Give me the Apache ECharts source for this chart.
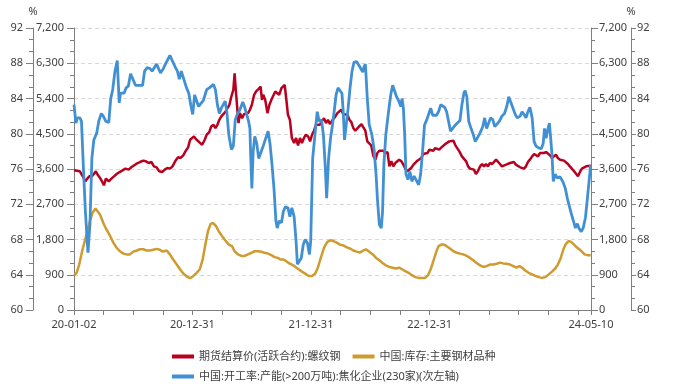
<!DOCTYPE html>
<html>
<head>
<meta charset="utf-8">
<script src="https://cdn.jsdelivr.net/npm/echarts@6/dist/echarts.min.js"></script>
<style>
html,body{margin:0;padding:0;background:#ffffff;}
#chart{width:693px;height:388px;}
</style>
</head>
<body>
<div id="chart"></div>
<script>
// ---- data (x = days since startDate) ----
const startDate = '2020-01-02';
const endDate = '2024-05-10';
const xTickDates = ['2020-01-02','2020-04-02','2020-07-02','2020-10-01','2020-12-31','2021-04-01','2021-07-01','2021-09-30','2021-12-31','2022-04-01','2022-07-01','2022-09-30','2022-12-31','2023-04-01','2023-07-01','2023-09-30','2023-12-31','2024-03-31','2024-05-10'];
const xLabelDates = ['2020-01-02','2020-12-31','2021-12-31','2022-12-31','2024-05-10'];
const seriesNames = ['期货结算价(活跃合约):螺纹钢','中国:库存:主要钢材品种','中国:开工率:产能(>200万吨):焦化企业(230家)(次左轴)'];
const leftTicks = [0,900,1800,2700,3600,4500,5400,6300,7200];
const pctTicks = [60,64,68,72,76,80,84,88,92];

// 期货结算价(活跃合约):螺纹钢 [day, 元/吨]
const rebarPrice = [[0,3566],[18,3541],[27,3413],[35,3286],[41,3354],[47,3413],[55,3413],[61,3473],[67,3541],[74,3439],[80,3371],[86,3286],[92,3184],[98,3354],[107,3286],[115,3354],[123,3413],[131,3473],[139,3516],[148,3558],[158,3609],[168,3584],[176,3643],[182,3592],[191,3728],[203,3779],[213,3813],[221,3796],[230,3753],[238,3779],[246,3668],[254,3643],[262,3541],[271,3524],[279,3584],[287,3626],[295,3609],[303,3668],[311,3796],[320,3898],[328,3881],[336,3948],[344,4067],[351,4152],[357,4347],[363,4322],[369,4432],[377,4347],[385,4288],[394,4220],[402,4347],[408,4475],[416,4543],[422,4687],[429,4729],[435,4645],[441,4729],[447,4857],[453,4942],[459,4984],[465,5052],[472,5154],[478,5239],[484,5451],[490,5621],[494,6045],[498,5579],[502,5154],[506,4772],[510,5027],[517,4899],[523,5001],[529,4984],[535,5027],[541,5112],[547,5239],[554,5494],[560,5579],[568,5646],[574,5706],[578,5366],[582,5494],[588,5366],[595,5027],[601,5239],[607,5366],[613,5366],[619,5579],[625,5537],[631,5494],[638,5663],[644,5706],[648,5748],[652,5451],[658,4984],[664,4857],[670,4390],[677,4262],[683,4390],[689,4203],[695,4390],[701,4262],[707,4390],[713,4475],[720,4432],[726,4305],[732,4475],[738,4577],[744,4729],[750,4772],[756,4729],[763,4831],[769,4899],[775,4772],[781,4857],[787,4750],[796,4857],[804,4942],[810,5027],[816,5052],[822,5112],[828,5001],[834,5052],[841,4984],[847,4857],[853,4797],[859,4645],[865,4577],[871,4627],[877,4687],[884,4746],[890,4729],[896,4577],[902,4305],[908,4322],[914,4203],[921,3923],[927,3838],[933,4008],[939,4067],[945,4093],[951,4067],[957,4008],[964,4033],[970,3668],[976,3796],[982,3668],[988,3753],[994,3779],[1000,3838],[1007,3796],[1013,3711],[1019,3609],[1025,3541],[1031,3498],[1037,3626],[1044,3711],[1050,3728],[1056,3813],[1062,3864],[1068,3881],[1074,3983],[1080,3948],[1087,4008],[1093,4093],[1099,4050],[1105,4067],[1111,4135],[1117,4177],[1123,4093],[1130,4152],[1136,4135],[1142,4237],[1148,4262],[1154,4305],[1160,4262],[1167,4322],[1173,4203],[1179,4152],[1185,4050],[1193,3923],[1199,3898],[1206,3796],[1212,3668],[1218,3609],[1224,3643],[1230,3584],[1236,3473],[1242,3541],[1249,3668],[1255,3728],[1261,3668],[1267,3728],[1273,3668],[1279,3753],[1286,3728],[1292,3779],[1298,3838],[1304,3796],[1310,3728],[1316,3668],[1322,3668],[1329,3711],[1335,3753],[1341,3753],[1347,3796],[1353,3779],[1359,3711],[1365,3668],[1372,3643],[1378,3626],[1384,3609],[1390,3668],[1396,3779],[1402,3838],[1409,3923],[1415,3983],[1421,3948],[1427,3923],[1433,4008],[1439,3983],[1445,4008],[1452,4033],[1458,4008],[1464,3948],[1470,3881],[1476,3898],[1482,3966],[1488,3881],[1495,3838],[1501,3796],[1507,3813],[1513,3779],[1519,3728],[1525,3668],[1531,3609],[1538,3541],[1544,3498],[1550,3413],[1556,3524],[1562,3609],[1568,3643],[1575,3668],[1581,3643],[1589,3680]];

// 中国:库存:主要钢材品种 [day, 万吨]
const steelStock = [[0,880],[8,950],[16,1160],[25,1500],[33,1760],[41,2010],[49,2270],[57,2480],[66,2590],[72,2560],[80,2440],[90,2220],[100,2050],[111,1890],[121,1720],[131,1590],[141,1500],[152,1440],[162,1420],[172,1420],[182,1490],[193,1520],[203,1550],[213,1550],[223,1520],[234,1520],[244,1540],[254,1560],[264,1540],[273,1490],[279,1510],[285,1520],[295,1420],[305,1290],[316,1160],[326,1040],[336,930],[346,860],[357,810],[367,870],[377,950],[387,1040],[396,1300],[404,1670],[412,2010],[420,2200],[428,2220],[437,2140],[445,2010],[455,1890],[465,1780],[476,1670],[486,1630],[494,1500],[504,1420],[515,1380],[525,1380],[535,1420],[545,1460],[556,1500],[566,1500],[576,1490],[586,1460],[597,1440],[607,1400],[617,1350],[627,1330],[635,1290],[644,1290],[652,1250],[660,1200],[670,1160],[681,1100],[691,1040],[701,980],[711,930],[722,870],[732,870],[742,930],[750,1080],[759,1330],[769,1590],[779,1740],[789,1780],[798,1760],[808,1720],[818,1670],[828,1650],[839,1600],[849,1570],[859,1520],[869,1490],[880,1470],[890,1520],[898,1550],[908,1490],[919,1420],[929,1330],[939,1270],[949,1200],[959,1140],[970,1100],[980,1080],[990,1060],[1000,1080],[1009,1040],[1019,990],[1029,950],[1039,890],[1050,840],[1060,820],[1070,820],[1080,820],[1089,890],[1097,1040],[1105,1250],[1113,1460],[1121,1630],[1130,1670],[1138,1670],[1146,1630],[1156,1570],[1167,1500],[1177,1460],[1187,1440],[1197,1420],[1208,1380],[1218,1330],[1228,1270],[1238,1200],[1249,1140],[1259,1100],[1269,1120],[1279,1160],[1290,1160],[1300,1180],[1310,1210],[1320,1190],[1331,1180],[1341,1160],[1351,1120],[1361,1080],[1370,1120],[1378,1080],[1388,1010],[1398,950],[1409,910],[1419,870],[1429,840],[1439,820],[1450,840],[1460,910],[1470,980],[1480,1060],[1488,1160],[1497,1330],[1505,1550],[1513,1690],[1521,1760],[1529,1740],[1538,1670],[1546,1600],[1554,1550],[1562,1490],[1570,1420],[1579,1400],[1589,1400]];

// 中国:开工率:产能(>200万吨):焦化企业(230家) [day, %]
const cokingRate = [[0,83.3],[6,81.2],[10,81.8],[18,81.8],[23,81.4],[29,76.1],[35,71.2],[43,66.5],[49,69.7],[55,77.2],[61,79.3],[70,80.1],[76,81.4],[84,82.3],[90,82.0],[98,81.4],[107,81.3],[113,84.0],[119,85.0],[126,87.1],[133,88.3],[139,83.5],[143,84.6],[154,84.6],[160,85.2],[167,85.4],[174,86.8],[180,86.3],[189,85.5],[203,85.5],[211,85.5],[217,87.1],[225,87.5],[234,87.4],[240,87.1],[246,87.2],[254,87.9],[260,87.8],[266,86.9],[275,87.4],[281,87.9],[287,88.1],[295,88.9],[301,88.4],[311,87.6],[318,87.1],[324,86.2],[330,87.1],[336,87.1],[346,85.2],[353,84.6],[359,83.3],[365,82.2],[371,84.4],[377,84.2],[383,83.1],[388,82.9],[398,83.8],[408,85.0],[416,85.2],[422,85.0],[429,85.6],[435,85.0],[441,83.3],[447,82.3],[453,82.9],[459,83.3],[465,83.7],[470,82.5],[476,79.9],[484,78.2],[490,78.6],[496,81.6],[502,82.2],[510,82.7],[519,83.6],[525,83.0],[531,82.2],[537,81.4],[541,80.6],[543,78.0],[547,73.8],[551,78.0],[556,79.7],[562,78.9],[568,77.2],[574,77.4],[580,78.4],[588,79.3],[597,80.3],[603,78.8],[609,76.5],[615,73.8],[621,70.1],[625,69.3],[631,70.1],[638,69.9],[644,71.2],[650,71.7],[658,71.6],[664,70.6],[670,71.6],[677,70.6],[683,67.8],[687,65.2],[693,65.2],[699,65.9],[705,67.4],[711,68.0],[718,67.6],[724,66.3],[728,67.8],[734,77.2],[740,79.5],[748,82.5],[754,81.4],[761,81.6],[767,79.9],[773,76.1],[777,72.7],[783,77.2],[789,79.5],[795,81.0],[800,82.5],[806,84.4],[812,85.2],[818,85.0],[824,84.6],[828,82.5],[832,79.3],[836,79.5],[843,82.9],[849,85.2],[855,87.1],[861,88.1],[869,88.2],[875,88.1],[882,87.4],[888,87.0],[892,87.6],[896,87.9],[898,86.7],[902,84.0],[908,81.0],[916,79.9],[923,78.2],[929,75.4],[933,72.7],[939,69.7],[945,69.3],[949,71.2],[953,76.5],[959,79.9],[968,82.7],[974,84.4],[980,85.5],[986,85.6],[992,84.2],[999,83.7],[1005,83.1],[1009,84.0],[1013,82.9],[1017,79.9],[1021,75.4],[1027,74.8],[1033,75.7],[1039,74.6],[1046,75.2],[1052,75.0],[1060,74.2],[1066,75.4],[1072,78.0],[1078,81.0],[1085,81.6],[1091,81.8],[1097,82.9],[1103,82.1],[1109,82.3],[1115,82.1],[1121,82.5],[1128,83.3],[1134,83.2],[1140,83.0],[1146,82.5],[1152,81.4],[1158,80.3],[1164,80.5],[1173,81.0],[1179,81.2],[1187,81.5],[1193,83.3],[1199,84.6],[1203,84.9],[1208,84.2],[1214,81.4],[1222,80.5],[1228,79.9],[1234,79.1],[1240,79.3],[1249,80.1],[1257,80.8],[1263,81.8],[1269,80.6],[1275,80.8],[1281,81.8],[1288,81.6],[1294,80.8],[1300,81.0],[1308,81.4],[1316,82.0],[1324,82.3],[1331,83.1],[1337,84.2],[1343,84.0],[1349,83.0],[1357,82.2],[1363,81.8],[1372,82.0],[1378,82.5],[1384,82.2],[1390,81.8],[1396,82.5],[1402,83.0],[1409,81.8],[1415,79.1],[1421,78.6],[1429,78.4],[1437,78.3],[1443,78.9],[1447,80.6],[1452,79.5],[1456,80.3],[1462,81.2],[1466,79.5],[1470,77.6],[1474,74.6],[1480,75.4],[1486,75.0],[1495,75.1],[1503,74.6],[1511,73.8],[1517,72.7],[1523,72.8],[1529,71.0],[1536,70.1],[1542,69.3],[1548,69.8],[1554,69.2],[1560,68.9],[1566,69.3],[1573,70.5],[1579,72.7],[1589,76.5]];

// ---- build ----
const DAY = 86400000;
const t0 = Date.parse(startDate);
const toTime = arr => arr.map(p => [t0 + p[0] * DAY, p[1]]);
const pad = n => (n < 10 ? '0' : '') + n;
const fmtDate = v => { const d = new Date(v); return pad(d.getUTCFullYear() % 100) + '-' + pad(d.getUTCMonth() + 1) + '-' + pad(d.getUTCDate()); };
const fmtThousand = v => String(v).replace(/\B(?=(\d{3})+(?!\d))/g, ',');

const FONT = "'Noto Sans', 'Noto Sans CJK SC', sans-serif";
const AXIS_COLOR = '#7f7f7f';
const LABEL_COLOR = '#404040';

function yAxisDef(opts) {
  return Object.assign({
    type: 'value',
    axisLine: { show: true, lineStyle: { color: AXIS_COLOR, width: 1 } },
    axisTick: { show: true, length: 7, lineStyle: { color: AXIS_COLOR } },
    minorTick: { show: true, splitNumber: 3, length: 4, lineStyle: { color: AXIS_COLOR } },
    splitLine: { show: false },
    minorSplitLine: { show: false },
    axisLabel: { color: LABEL_COLOR, fontSize: 11, fontFamily: FONT, margin: 10 },
    nameTextStyle: { color: LABEL_COLOR, fontSize: 11, fontFamily: FONT }
  }, opts);
}

const chart = echarts.init(document.getElementById('chart'), null, { renderer: 'canvas' });
chart.setOption({
  animation: false,
  backgroundColor: '#ffffff',
  textStyle: { fontFamily: FONT },
  grid: { left: 74, right: 102, top: 28, bottom: 78, containLabel: false },
  legend: [
    {
      data: [seriesNames[0], seriesNames[1]],
      left: 167, top: 346, itemWidth: 22, itemHeight: 4, itemGap: 12, icon: 'rect',
      textStyle: { color: LABEL_COLOR, fontSize: 11, fontFamily: FONT }
    },
    {
      data: [seriesNames[2]],
      left: 167, top: 366, itemWidth: 22, itemHeight: 4, icon: 'rect',
      textStyle: { color: LABEL_COLOR, fontSize: 11, fontFamily: FONT }
    }
  ],
  xAxis: {
    type: 'value',
    min: Date.parse(startDate),
    max: Date.parse(endDate),
    axisLine: { show: true, onZero: false, lineStyle: { color: AXIS_COLOR } },
    axisTick: { show: true, length: 5, lineStyle: { color: AXIS_COLOR }, customValues: xTickDates.map(d => Date.parse(d)) },
    axisLabel: { color: LABEL_COLOR, fontSize: 11, fontFamily: FONT, margin: 9, hideOverlap: false,
      customValues: xLabelDates.map(d => Date.parse(d)), formatter: v => fmtDate(v) },
    splitLine: { show: false }
  },
  yAxis: [
    yAxisDef({ position: 'left', min: leftTicks[0], max: leftTicks[leftTicks.length - 1], interval: 900,
      axisLabel: { color: LABEL_COLOR, fontSize: 11, fontFamily: FONT, margin: 10, formatter: fmtThousand },
      splitLine: { show: true, lineStyle: { color: '#d9d9d9', type: [4, 3], width: 1 } } }),
    yAxisDef({ position: 'left', offset: 41, min: pctTicks[0], max: pctTicks[pctTicks.length - 1], interval: 4,
      name: '%', nameLocation: 'end', nameGap: 11 }),
    yAxisDef({ position: 'right', min: leftTicks[0], max: leftTicks[leftTicks.length - 1], interval: 900,
      axisLabel: { color: LABEL_COLOR, fontSize: 11, fontFamily: FONT, margin: 8, formatter: fmtThousand } }),
    yAxisDef({ position: 'right', offset: 40, min: pctTicks[0], max: pctTicks[pctTicks.length - 1], interval: 4,
      axisTick: { show: true, length: 5, lineStyle: { color: AXIS_COLOR } },
      axisLabel: { color: LABEL_COLOR, fontSize: 11, fontFamily: FONT, margin: 6 },
      name: '%', nameLocation: 'end', nameGap: 11 })
  ],
  series: [
    { name: seriesNames[0], type: 'line', yAxisIndex: 0, data: toTime(rebarPrice), showSymbol: false, symbol: 'none',
      lineStyle: { color: '#B8001F', width: 2.5 }, itemStyle: { color: '#B8001F' }, z: 2 },
    { name: seriesNames[1], type: 'line', yAxisIndex: 0, data: toTime(steelStock), showSymbol: false, symbol: 'none',
      lineStyle: { color: '#CF9A2E', width: 2.5 }, itemStyle: { color: '#CF9A2E' }, z: 3 },
    { name: seriesNames[2], type: 'line', yAxisIndex: 1, data: toTime(cokingRate), showSymbol: false, symbol: 'none',
      lineStyle: { color: '#4190D3', width: 2.8 }, itemStyle: { color: '#4190D3' }, z: 4 }
  ]
});
</script>
</body>
</html>
